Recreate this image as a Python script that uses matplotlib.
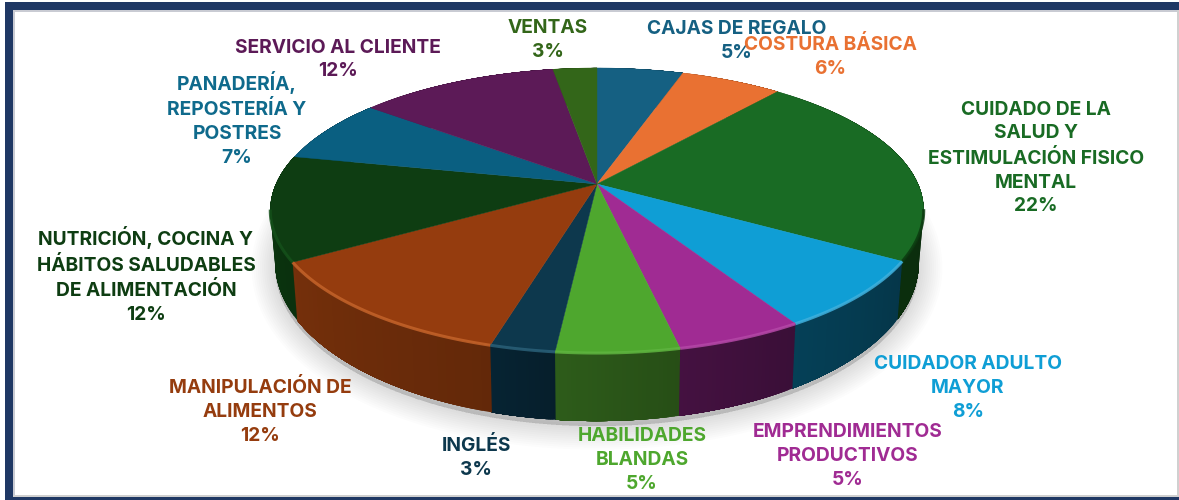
# 3D style pie of course shares, drawn by hand because matplotlib has no perspective pie
import numpy as np
import matplotlib
matplotlib.use('Agg')
import matplotlib.pyplot as plt
from matplotlib.colors import to_rgb
from matplotlib.patches import Rectangle

categories = ['CAJAS DE REGALO', 'COSTURA BÁSICA',
              'CUIDADO DE LA\nSALUD Y\nESTIMULACIÓN FISICO\nMENTAL',
              'CUIDADOR ADULTO\nMAYOR', 'EMPRENDIMIENTOS\nPRODUCTIVOS',
              'HABILIDADES\nBLANDAS', 'INGLÉS', 'MANIPULACIÓN DE\nALIMENTOS',
              'NUTRICIÓN, COCINA Y\nHÁBITOS SALUDABLES\nDE ALIMENTACIÓN',
              'PANADERÍA,\nREPOSTERÍA Y\nPOSTRES', 'SERVICIO AL CLIENTE', 'VENTAS']
values = [5.1, 6.0, 22.4, 7.8, 5.3, 5.1, 2.7, 12.0, 11.9, 7.3, 11.8, 2.6]

top_colors = ['#156082', '#E97132', '#196B24', '#0F9ED5', '#A02B93', '#4EA72E',
              '#0D384D', '#953C0E', '#0E3D12', '#0A5F81', '#5C1A57', '#336619']
side_colors = ['#0C3A4E', '#8C441E', '#0A2B0C', '#053B50', '#3F103C', '#2A5518',
               '#06212F', '#6C2C0A', '#0B350F', '#063A4E', '#380F34', '#1E3D0F']
text_colors = ['#156082', '#E97132', '#196B24', '#0F9ED5', '#A02B93', '#4EA72E',
               '#0D384D', '#953C0E', '#0E3D12', '#0F6A8C', '#5C1A57', '#336619']
bevel_colors = [None, None, '#0C3A10', '#3FB0DD', '#B548A8', '#5FB540',
                '#2A6078', '#C4632A', '#14501A', None, None, None]

# label centres in pixels
label_x = [737, 830, 1036, 968, 848, 642, 476, 260, 146, 237, 338, 548]
label_y = [41, 56.5, 158, 388, 456, 460, 457.5, 411.5, 275, 119, 59.5, 40]

# projective mapping of the unit circle, fitted to the picture
cx, cy = 597, 184
a, b, k = 321.0, 137.6, 0.186


def project(t):
    u, v = np.sin(t), -np.cos(t)
    d = 1 - k * v
    return cx + a * u / d, cy + b * v / d


def lower(x, y):
    # the lower rim of the drum
    return cx + (x - cx) * 0.985, y + 49.3 + 0.111 * (y - cy)


def shade(color, f):
    return tuple(min(1, c * f) for c in to_rgb(color))


fig = plt.figure(figsize=(11.79, 5.0), dpi=100)
ax = fig.add_axes([0, 0, 1, 1])
ax.set_xlim(0, 1179)
ax.set_ylim(500, 0)
ax.axis('off')

# frame
ax.add_patch(Rectangle((5, 2), 1174, 8, color='#1F3864', lw=0))
ax.add_patch(Rectangle((5, 2), 8, 498, color='#1F3864', lw=0))
ax.add_patch(Rectangle((5, 497), 1174, 3, color='#1F3864', lw=0))
ax.add_patch(Rectangle((13, 10), 1166, 2, color='#C9CBD3', lw=0))
ax.add_patch(Rectangle((13, 10), 2, 487, color='#C9CBD3', lw=0))
ax.add_patch(Rectangle((13, 495), 1166, 2, color='#D0D0D0', lw=0))
ax.add_patch(Rectangle((1177, 10), 2, 487, color='#D0D0D0', lw=0))

edges = np.cumsum([0] + values) / sum(values) * 2 * np.pi

# soft shadow under the drum
tt = np.linspace(0, 2 * np.pi, 300)
sx, sy = lower(*project(tt))
for w in range(34, 0, -3):
    ax.fill(sx, sy + 5, color='black', alpha=0.012, lw=w, zorder=1)

# side wall: each step overpaints the rest of the slice so no seams show
for i in range(len(values)):
    t = np.linspace(edges[i], edges[i + 1], 31)
    x, y = project(t)
    xl, yl = lower(x, y)
    for j in range(30):
        c = shade(side_colors[i], 0.92 + 0.16 * j / 29)
        ax.fill(np.r_[x[j:], xl[j:][::-1]], np.r_[y[j:], yl[j:][::-1]], color=c, lw=0, zorder=2)

# top face
for i in range(len(values)):
    x, y = project(np.linspace(edges[i], edges[i + 1], 80))
    ax.fill(np.r_[cx, x], np.r_[cy, y], color=top_colors[i], lw=0.3, zorder=3)
    if bevel_colors[i]:
        front = y > cy + 25
        ax.plot(x[front], y[front], color=bevel_colors[i], lw=2.2, alpha=0.85, zorder=4,
                solid_capstyle='butt')

# labels
for name, v, lx, ly, col in zip(categories, values, label_x, label_y, text_colors):
    ax.text(lx, ly, f'{name}\n{round(v)}%', color=col, ha='center', va='center',
            fontsize=13.8, fontweight='bold', linespacing=1.42, zorder=5,
            family=['Inter', 'DejaVu Sans'])

fig.savefig('out.png', dpi=100)
